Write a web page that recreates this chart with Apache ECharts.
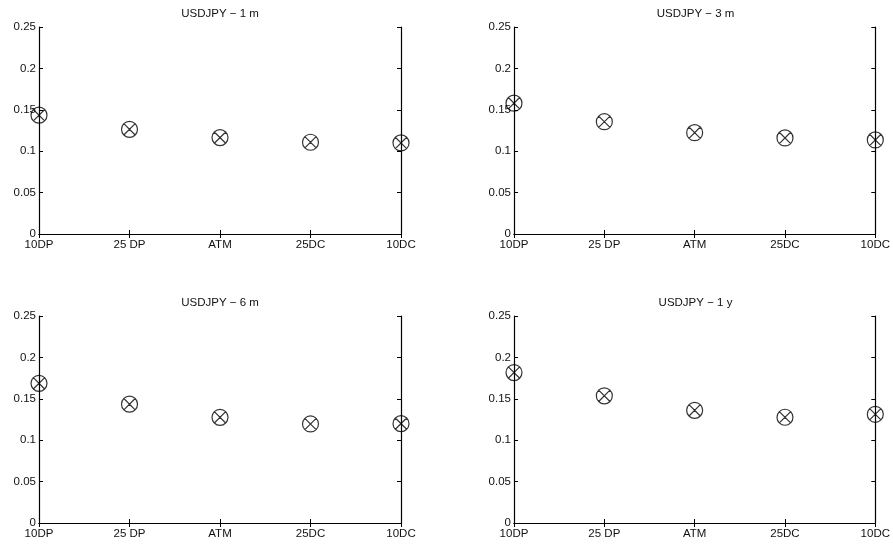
<!DOCTYPE html>
<html>
<head>
<meta charset="utf-8">
<script src="https://cdn.jsdelivr.net/npm/echarts@6/dist/echarts.min.js"></script>
<style>
  html, body { margin: 0; background: #fff; }
  #chart { width: 893px; height: 544px; }
</style>
</head>
<body>
<div id="chart"></div>
<script>
// smile data
const strikes = ['10DP', '25 DP', 'ATM', '25DC', '10DC'];
const panelTitles = ['USDJPY \u2212 1 m', 'USDJPY \u2212 3 m', 'USDJPY \u2212 6 m', 'USDJPY \u2212 1 y'];
const vol1m = [0.1435, 0.1264, 0.1164, 0.1108, 0.1100];
const vol3m = [0.1580, 0.1356, 0.1224, 0.1160, 0.1136];
const vol6m = [0.1687, 0.1435, 0.1276, 0.1196, 0.1200];
const vol1y = [0.1817, 0.1536, 0.1361, 0.1277, 0.1313];
const yMin = 0;
const yMax = 0.25;
const yStep = 0.05;

const panels = [vol1m, vol3m, vol6m, vol1y];

// subplot boxes (px)
const boxes = [
  {left: 39, top: 27, width: 362, height: 207},
  {left: 514, top: 27, width: 363, height: 207},
  {left: 39, top: 316, width: 362, height: 207},
  {left: 514, top: 316, width: 363, height: 207}
];

const FONT = 'Liberation Sans, Arial, Helvetica, sans-serif';
const INK = '#000';
// circle with an x in it
const circleX = 'path://M0,10 A10,10 0 1,1 20,10 A10,10 0 1,1 0,10 Z M2.93,2.93 L17.07,17.07 M17.07,2.93 L2.93,17.07';

const grid = [], xAxis = [], yAxis = [], series = [], graphic = [];

boxes.forEach((b, i) => {
  grid.push({left: b.left, top: b.top, width: b.width, height: b.height, containLabel: false});

  const xBase = {
    type: 'category', data: strikes, gridIndex: i, boundaryGap: false,
    axisLine: {show: true, lineStyle: {color: INK, width: 1.2}},
    axisTick: {show: true, inside: true, length: 4, lineStyle: {color: INK}},
    splitLine: {show: false}
  };
  xAxis.push(Object.assign({}, xBase, {
    position: 'bottom',
    axisLabel: {show: true, color: '#111', fontFamily: FONT, fontSize: 11.5, margin: 5, interval: 0}
  }));
  xAxis.push(Object.assign({}, xBase, {position: 'top', axisLabel: {show: false}}));

  const yBase = {
    type: 'value', gridIndex: i, min: yMin, max: yMax, interval: yStep,
    axisLine: {show: true, lineStyle: {color: INK, width: 1.2}},
    axisTick: {show: true, inside: true, length: 4, lineStyle: {color: INK}},
    splitLine: {show: false}
  };
  yAxis.push(Object.assign({}, yBase, {
    position: 'left',
    axisLabel: {show: true, color: '#111', fontFamily: FONT, fontSize: 11.5, margin: 3}
  }));
  yAxis.push(Object.assign({}, yBase, {position: 'right', axisLabel: {show: false}}));

  series.push({
    type: 'scatter',
    xAxisIndex: i * 2,
    yAxisIndex: i * 2,
    data: panels[i],
    symbol: circleX,
    symbolSize: 16,
    clip: false,
    itemStyle: {color: 'rgba(0,0,0,0)', borderColor: INK, borderWidth: 1.2},
    emphasis: {disabled: true}
  });

  graphic.push({
    type: 'text',
    x: b.left + b.width / 2,
    y: b.top - 13,
    style: {
      text: panelTitles[i], fill: '#111', font: '11.5px ' + FONT,
      align: 'center', verticalAlign: 'middle'
    }
  });
});

const chart = echarts.init(document.getElementById('chart'));
chart.setOption({
  animation: false,
  backgroundColor: '#fff',
  grid, xAxis, yAxis, series, graphic
});
</script>
</body>
</html>
